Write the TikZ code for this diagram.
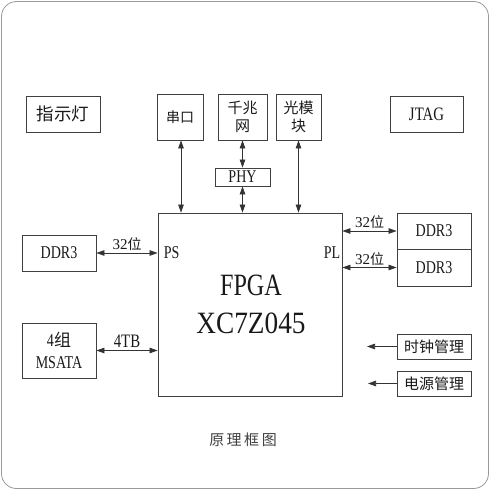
\documentclass[tikz,border=0pt]{standalone}
\usepackage{fontspec}
\setmainfont[FakeStretch=0.78]{Liberation Serif}
\newfontfamily\wideserif{Liberation Serif}
\newfontfamily\midserif[FakeStretch=0.88]{Liberation Serif}
\newfontfamily\cjk{Noto Sans CJK SC}
\newcommand{\cn}[1]{{\cjk #1}}
\usetikzlibrary{arrows.meta}
\tikzset{
  blk/.style={draw=black!75, line width=0.8pt, inner sep=0pt, align=center, text=black!90},
  conn/.style={draw=black!80, line width=0.7pt, {Triangle[length=8pt,width=5.5pt]}-{Triangle[length=8pt,width=5.5pt]}},
  inarrow/.style={draw=black!80, line width=0.7pt, -{Triangle[length=8pt,width=5.5pt]}},
  lbl/.style={inner sep=1pt, font=\wideserif\fontsize{15}{15}\selectfont, text=black!90},
}
\begin{document}
\begin{tikzpicture}[x=1pt,y=-1pt]
\useasboundingbox (0,0) rectangle (490,490);
\draw[black!40, line width=0.8pt, rounded corners=15pt] (1.5,1.5) rectangle (488.5,488.5);

\node[blk, minimum width=74pt, minimum height=36pt, font=\fontsize{17.5}{17.5}\selectfont] (zsd) at (63,114) {\cn{指示灯}};
\node[blk, minimum width=46pt, minimum height=46pt, font=\fontsize{14}{14}\selectfont] (ck) at (180,117) {\cn{串口}};
\node[blk, minimum width=49pt, minimum height=46pt, font=\fontsize{15}{18}\selectfont] (qzw) at (242.5,117) {\cn{千兆}\\\cn{网}};
\node[blk, minimum width=45pt, minimum height=46pt, font=\fontsize{15}{18}\selectfont] (gmk) at (298.5,117) {\cn{光模}\\\cn{块}};
\node[blk, minimum width=73pt, minimum height=36pt, font=\fontsize{19}{19}\selectfont] (jtag) at (426.5,114) {JTAG};
\node[blk, minimum width=55pt, minimum height=18pt, font=\fontsize{18}{18}\selectfont] (phy) at (242.5,177) {PHY};
\node[blk, minimum width=184pt, minimum height=183pt] (fpga) at (250,304.5) {};
\node[font=\fontsize{31}{31}\selectfont, text=black!90] (fpgat) at (251,285) {FPGA};
\node[font=\midserif\fontsize{31}{31}\selectfont, text=black!90] (xc) at (251,323) {XC7Z045};
\node[anchor=west, font=\fontsize{18}{18}\selectfont, inner sep=0pt, text=black!90] (ps) at ([xshift=6pt]fpga.west |- 0,253) {PS};
\node[anchor=east, font=\fontsize{18}{18}\selectfont, inner sep=0pt, text=black!90] (pl) at ([xshift=-2pt]fpga.east |- 0,253) {PL};

\node[blk, minimum width=74pt, minimum height=36pt, font=\fontsize{18}{18}\selectfont] (ddrl) at (59,253) {DDR3};
\node[blk, minimum width=74pt, minimum height=55pt, font=\fontsize{18}{22}\selectfont] (msata) at (59,350.5) {4\cn{\fontsize{17}{17}\selectfont 组}\\MSATA};
\node[blk, minimum width=74pt, minimum height=36pt, font=\fontsize{18}{18}\selectfont] (ddr1) at (434,231) {DDR3};
\node[blk, minimum width=74pt, minimum height=37pt, font=\fontsize{18}{18}\selectfont] (ddr2) at (434,267.5) {DDR3};
\node[blk, minimum width=74pt, minimum height=25pt, font=\fontsize{15}{15}\selectfont] (clk) at (434,346.5) {\cn{时钟管理}};
\node[blk, minimum width=74pt, minimum height=25pt, font=\fontsize{15}{15}\selectfont] (pwr) at (434,383.5) {\cn{电源管理}};

\coordinate (clkend) at (367,346.5);
\coordinate (pwrend) at (368,383.5);

\draw[conn] ([xshift=1pt]ck.south) -- ([xshift=1pt]ck.south |- fpga.north);
\draw[conn] (qzw.south) -- (phy.north);
\draw[conn] (phy.south) -- (phy.south |- fpga.north);
\draw[conn] (gmk.south) -- (gmk.south |- fpga.north);
\draw[conn] (ddrl.east) -- (ddrl.east -| fpga.west) node[lbl, midway, above=1pt] {32\cn{\fontsize{14}{14}\selectfont 位}};
\draw[conn] (msata.east) -- (msata.east -| fpga.west) node[lbl, midway, above=2pt, font=\rmfamily\fontsize{19}{19}\selectfont] {4TB};
\draw[conn] (ddr1.west -| fpga.east) -- (ddr1.west) node[lbl, midway, above=1pt] {32\cn{\fontsize{14}{14}\selectfont 位}};
\draw[conn] (ddr2.west -| fpga.east) -- (ddr2.west) node[lbl, midway, above=1pt] {32\cn{\fontsize{14}{14}\selectfont 位}};
\draw[inarrow] (clk.west) -- (clkend);
\draw[inarrow] (pwr.west) -- (pwrend);

\node[font=\fontsize{15}{15}\selectfont\cjk, text=black!75] (title) at (243,440) {原\,理\,框\,图};
\end{tikzpicture}
\end{document}
